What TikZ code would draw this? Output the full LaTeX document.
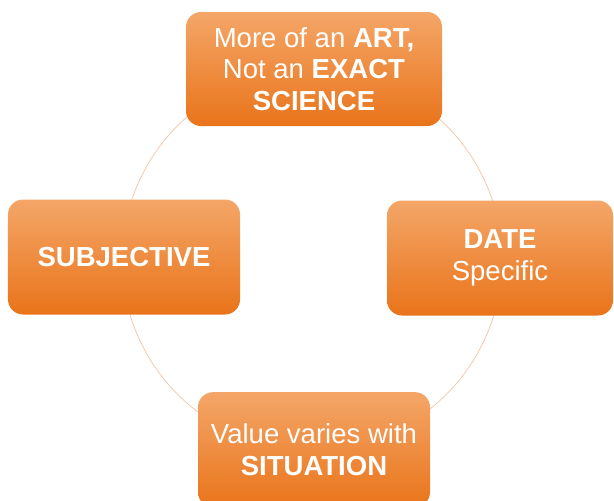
\documentclass[tikz,border=0pt]{standalone}
\usepackage{fontspec}
\setmainfont{Liberation Sans}
\usepackage{xcolor}
\usetikzlibrary{positioning}

\definecolor{boxtop}{RGB}{244,166,104}
\definecolor{boxbottom}{RGB}{233,116,26}
\definecolor{ringline}{RGB}{242,196,168}

\begin{document}
\begin{tikzpicture}
          \useasboundingbox (0,0) rectangle (18.42,-15);
          % ring behind the boxes
          \coordinate (o) at (9.36,-7.8);
          \draw[ringline,line width=0.6pt] (o) circle (5.7);
          \begin{scope}[every node/.style={rectangle,rounded corners=0.45cm,
              top color=boxtop,bottom color=boxbottom,draw=none,
              text=white,align=center,font=\fontsize{23.5}{27}\selectfont,
              minimum width=6.96cm,minimum height=3.45cm}]
            \node[minimum width=7.68cm,minimum height=3.42cm] (art) at (9.42,-2.07)
              {More of an \textbf{ART,}\\Not an \textbf{EXACT}\\\textbf{SCIENCE}};
            \node (subj) at (3.72,-7.71) {\textbf{SUBJECTIVE}};
            \node[minimum width=6.78cm] (date) at (15.0,-7.74) {\textbf{DATE}\\Specific};
            \node (situ) at (9.42,-13.49) {Value varies with\\\textbf{SITUATION}};
          \end{scope}
        \end{tikzpicture}
\end{document}
